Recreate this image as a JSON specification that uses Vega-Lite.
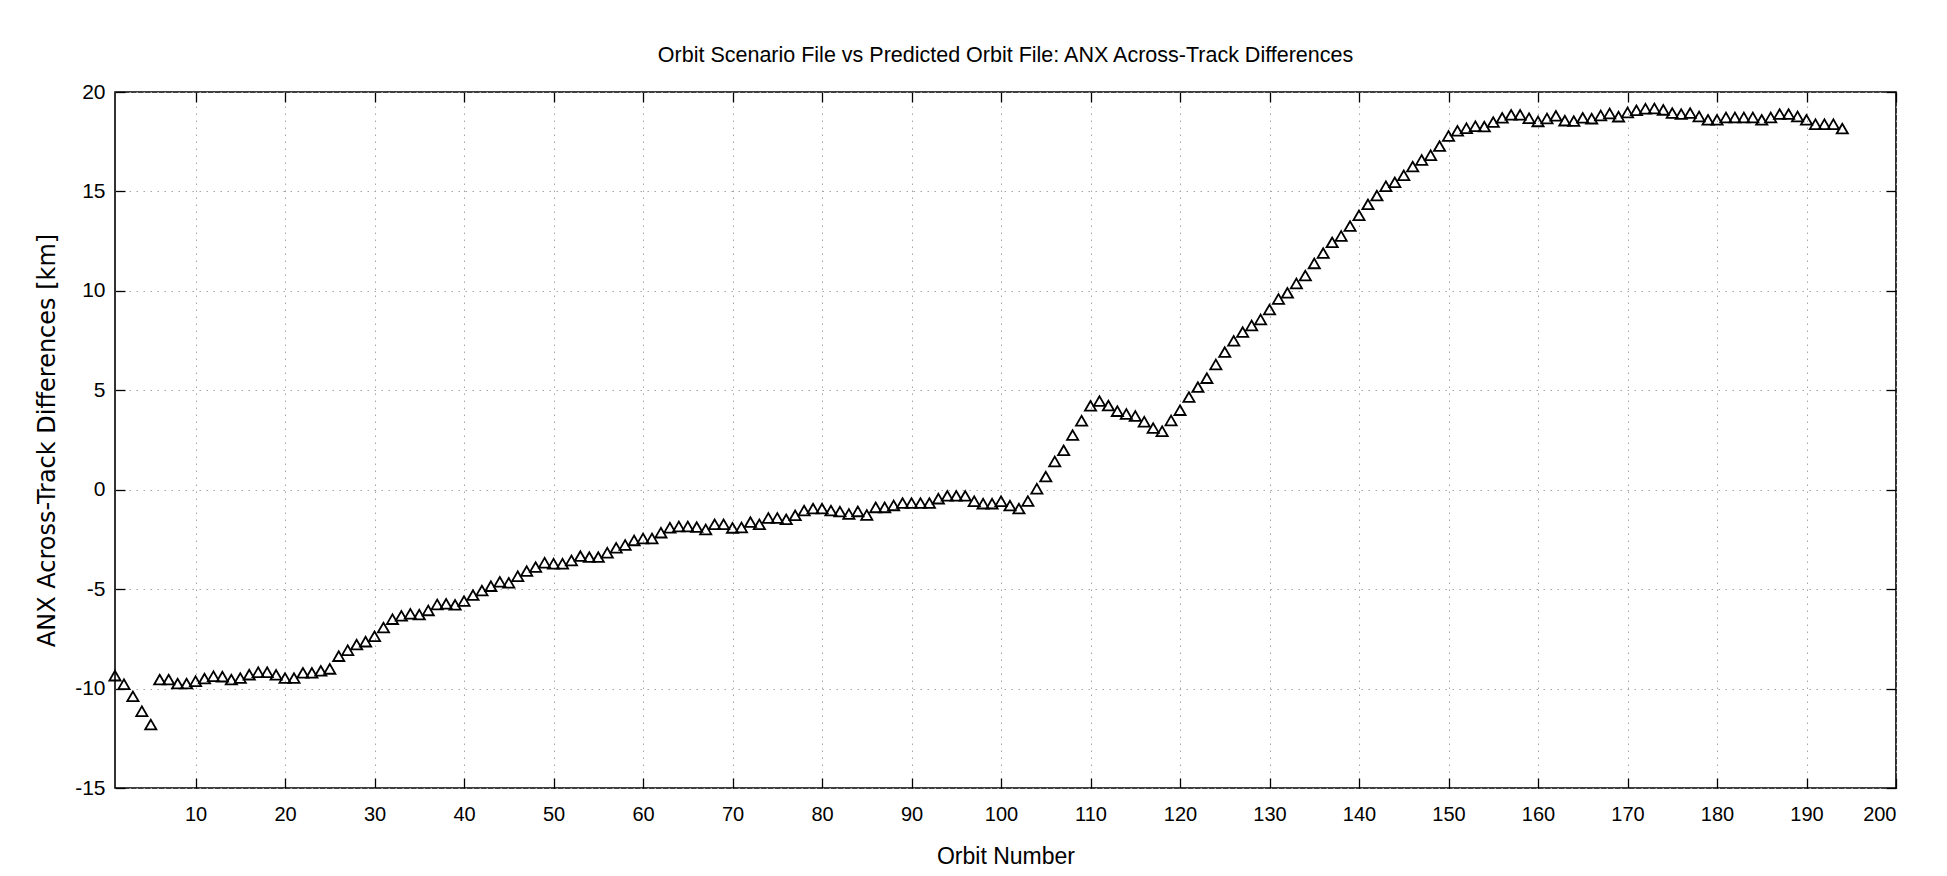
{
  "$schema": "https://vega.github.io/schema/vega-lite/v6.json",
  "width": 1781,
  "height": 696,
  "autosize": {"type": "none"},
  "padding": {"left": 115, "top": 92, "right": 51, "bottom": 88},
  "background": "white",
  "title": {
    "text": "Orbit Scenario File vs Predicted Orbit File: ANX Across-Track Differences",
    "font": "Liberation Sans",
    "fontSize": 21.5,
    "fontWeight": "normal",
    "color": "black",
    "anchor": "middle",
    "frame": "group",
    "offset": 15
  },
  "data": {
    "values": [
      {"orbit": 1, "diff": -9.35}, {"orbit": 2, "diff": -9.78}, {"orbit": 3, "diff": -10.39}, {"orbit": 4, "diff": -11.14}, {"orbit": 5, "diff": -11.81},
      {"orbit": 6, "diff": -9.55}, {"orbit": 7, "diff": -9.55}, {"orbit": 8, "diff": -9.75}, {"orbit": 9, "diff": -9.75}, {"orbit": 10, "diff": -9.63},
      {"orbit": 11, "diff": -9.5}, {"orbit": 12, "diff": -9.38}, {"orbit": 13, "diff": -9.4}, {"orbit": 14, "diff": -9.55}, {"orbit": 15, "diff": -9.47},
      {"orbit": 16, "diff": -9.3}, {"orbit": 17, "diff": -9.18}, {"orbit": 18, "diff": -9.18}, {"orbit": 19, "diff": -9.31}, {"orbit": 20, "diff": -9.47},
      {"orbit": 21, "diff": -9.47}, {"orbit": 22, "diff": -9.21}, {"orbit": 23, "diff": -9.21}, {"orbit": 24, "diff": -9.11}, {"orbit": 25, "diff": -9.01},
      {"orbit": 26, "diff": -8.37}, {"orbit": 27, "diff": -8.07}, {"orbit": 28, "diff": -7.79}, {"orbit": 29, "diff": -7.64}, {"orbit": 30, "diff": -7.37},
      {"orbit": 31, "diff": -6.93}, {"orbit": 32, "diff": -6.51}, {"orbit": 33, "diff": -6.34}, {"orbit": 34, "diff": -6.24}, {"orbit": 35, "diff": -6.28},
      {"orbit": 36, "diff": -6.07}, {"orbit": 37, "diff": -5.77}, {"orbit": 38, "diff": -5.74}, {"orbit": 39, "diff": -5.79}, {"orbit": 40, "diff": -5.6},
      {"orbit": 41, "diff": -5.3}, {"orbit": 42, "diff": -5.07}, {"orbit": 43, "diff": -4.85}, {"orbit": 44, "diff": -4.63}, {"orbit": 45, "diff": -4.68},
      {"orbit": 46, "diff": -4.35}, {"orbit": 47, "diff": -4.09}, {"orbit": 48, "diff": -3.89}, {"orbit": 49, "diff": -3.67}, {"orbit": 50, "diff": -3.72},
      {"orbit": 51, "diff": -3.72}, {"orbit": 52, "diff": -3.56}, {"orbit": 53, "diff": -3.34}, {"orbit": 54, "diff": -3.39}, {"orbit": 55, "diff": -3.39},
      {"orbit": 56, "diff": -3.17}, {"orbit": 57, "diff": -2.92}, {"orbit": 58, "diff": -2.78}, {"orbit": 59, "diff": -2.55}, {"orbit": 60, "diff": -2.45},
      {"orbit": 61, "diff": -2.45}, {"orbit": 62, "diff": -2.16}, {"orbit": 63, "diff": -1.91}, {"orbit": 64, "diff": -1.85}, {"orbit": 65, "diff": -1.85},
      {"orbit": 66, "diff": -1.88}, {"orbit": 67, "diff": -2.0}, {"orbit": 68, "diff": -1.74}, {"orbit": 69, "diff": -1.74}, {"orbit": 70, "diff": -1.92},
      {"orbit": 71, "diff": -1.9}, {"orbit": 72, "diff": -1.63}, {"orbit": 73, "diff": -1.74}, {"orbit": 74, "diff": -1.42}, {"orbit": 75, "diff": -1.42},
      {"orbit": 76, "diff": -1.49}, {"orbit": 77, "diff": -1.29}, {"orbit": 78, "diff": -1.05}, {"orbit": 79, "diff": -0.95}, {"orbit": 80, "diff": -0.95},
      {"orbit": 81, "diff": -1.05}, {"orbit": 82, "diff": -1.1}, {"orbit": 83, "diff": -1.22}, {"orbit": 84, "diff": -1.09}, {"orbit": 85, "diff": -1.27},
      {"orbit": 86, "diff": -0.89}, {"orbit": 87, "diff": -0.89}, {"orbit": 88, "diff": -0.79}, {"orbit": 89, "diff": -0.67}, {"orbit": 90, "diff": -0.67},
      {"orbit": 91, "diff": -0.67}, {"orbit": 92, "diff": -0.67}, {"orbit": 93, "diff": -0.45}, {"orbit": 94, "diff": -0.31}, {"orbit": 95, "diff": -0.31},
      {"orbit": 96, "diff": -0.31}, {"orbit": 97, "diff": -0.58}, {"orbit": 98, "diff": -0.7}, {"orbit": 99, "diff": -0.7}, {"orbit": 100, "diff": -0.58},
      {"orbit": 101, "diff": -0.8}, {"orbit": 102, "diff": -0.95}, {"orbit": 103, "diff": -0.57}, {"orbit": 104, "diff": 0.05}, {"orbit": 105, "diff": 0.66},
      {"orbit": 106, "diff": 1.42}, {"orbit": 107, "diff": 1.98}, {"orbit": 108, "diff": 2.75}, {"orbit": 109, "diff": 3.47}, {"orbit": 110, "diff": 4.22},
      {"orbit": 111, "diff": 4.46}, {"orbit": 112, "diff": 4.23}, {"orbit": 113, "diff": 3.95}, {"orbit": 114, "diff": 3.81}, {"orbit": 115, "diff": 3.71},
      {"orbit": 116, "diff": 3.42}, {"orbit": 117, "diff": 3.1}, {"orbit": 118, "diff": 2.94}, {"orbit": 119, "diff": 3.48}, {"orbit": 120, "diff": 4.0},
      {"orbit": 121, "diff": 4.66}, {"orbit": 122, "diff": 5.16}, {"orbit": 123, "diff": 5.61}, {"orbit": 124, "diff": 6.3}, {"orbit": 125, "diff": 6.92},
      {"orbit": 126, "diff": 7.49}, {"orbit": 127, "diff": 7.93}, {"orbit": 128, "diff": 8.26}, {"orbit": 129, "diff": 8.56}, {"orbit": 130, "diff": 9.06},
      {"orbit": 131, "diff": 9.59}, {"orbit": 132, "diff": 9.9}, {"orbit": 133, "diff": 10.37}, {"orbit": 134, "diff": 10.77}, {"orbit": 135, "diff": 11.38},
      {"orbit": 136, "diff": 11.9}, {"orbit": 137, "diff": 12.44}, {"orbit": 138, "diff": 12.76}, {"orbit": 139, "diff": 13.26}, {"orbit": 140, "diff": 13.8},
      {"orbit": 141, "diff": 14.35}, {"orbit": 142, "diff": 14.79}, {"orbit": 143, "diff": 15.26}, {"orbit": 144, "diff": 15.46}, {"orbit": 145, "diff": 15.81},
      {"orbit": 146, "diff": 16.25}, {"orbit": 147, "diff": 16.58}, {"orbit": 148, "diff": 16.82}, {"orbit": 149, "diff": 17.28}, {"orbit": 150, "diff": 17.79},
      {"orbit": 151, "diff": 18.05}, {"orbit": 152, "diff": 18.18}, {"orbit": 153, "diff": 18.28}, {"orbit": 154, "diff": 18.26}, {"orbit": 155, "diff": 18.49},
      {"orbit": 156, "diff": 18.7}, {"orbit": 157, "diff": 18.85}, {"orbit": 158, "diff": 18.85}, {"orbit": 159, "diff": 18.68}, {"orbit": 160, "diff": 18.52},
      {"orbit": 161, "diff": 18.67}, {"orbit": 162, "diff": 18.8}, {"orbit": 163, "diff": 18.56}, {"orbit": 164, "diff": 18.54}, {"orbit": 165, "diff": 18.7},
      {"orbit": 166, "diff": 18.66}, {"orbit": 167, "diff": 18.82}, {"orbit": 168, "diff": 18.92}, {"orbit": 169, "diff": 18.76}, {"orbit": 170, "diff": 18.97},
      {"orbit": 171, "diff": 19.08}, {"orbit": 172, "diff": 19.16}, {"orbit": 173, "diff": 19.17}, {"orbit": 174, "diff": 19.1}, {"orbit": 175, "diff": 18.94},
      {"orbit": 176, "diff": 18.89}, {"orbit": 177, "diff": 18.94}, {"orbit": 178, "diff": 18.77}, {"orbit": 179, "diff": 18.6}, {"orbit": 180, "diff": 18.6},
      {"orbit": 181, "diff": 18.72}, {"orbit": 182, "diff": 18.72}, {"orbit": 183, "diff": 18.72}, {"orbit": 184, "diff": 18.72}, {"orbit": 185, "diff": 18.6},
      {"orbit": 186, "diff": 18.72}, {"orbit": 187, "diff": 18.89}, {"orbit": 188, "diff": 18.89}, {"orbit": 189, "diff": 18.77}, {"orbit": 190, "diff": 18.6},
      {"orbit": 191, "diff": 18.38}, {"orbit": 192, "diff": 18.38}, {"orbit": 193, "diff": 18.38}, {"orbit": 194, "diff": 18.16}
    ]
  },
  "layer": [
    {
      "mark": {"type": "point", "shape": "triangle-up", "filled": false, "stroke": "black", "strokeWidth": 1.8, "size": 125, "opacity": 1},
      "encoding": {
        "x": {
          "field": "orbit", "type": "quantitative",
          "scale": {"domain": [1, 200], "nice": false, "zero": false},
          "axis": {
            "orient": "bottom",
            "values": [10, 20, 30, 40, 50, 60, 70, 80, 90, 100, 110, 120, 130, 140, 150, 160, 170, 180, 190, 200],
            "grid": true, "gridColor": "#a5a5a5", "gridDash": [1.5, 5.5], "gridWidth": 1,
            "domain": false,
            "ticks": true, "tickSize": -10, "tickColor": "black", "tickWidth": 1.3,
            "labelFont": "Liberation Sans", "labelFontSize": 20, "labelColor": "black", "labelPadding": 26,
            "title": "Orbit Number", "titleFont": "Liberation Sans", "titleFontSize": 23, "titleFontWeight": "normal", "titleColor": "black", "titlePadding": 21
          }
        },
        "y": {
          "field": "diff", "type": "quantitative",
          "scale": {"domain": [-15, 20], "nice": false, "zero": false},
          "axis": {
            "orient": "left",
            "values": [-15, -10, -5, 0, 5, 10, 15, 20],
            "labelExpr": "datum.value < 0 ? '-' + abs(datum.value) : '' + datum.value",
            "grid": true, "gridColor": "#a5a5a5", "gridDash": [1.5, 5.5], "gridWidth": 1,
            "domain": false,
            "ticks": true, "tickSize": -10, "tickColor": "black", "tickWidth": 1.3,
            "labelFont": "Liberation Sans", "labelFontSize": 21, "labelColor": "black", "labelPadding": 20,
            "title": "ANX Across-Track Differences [km]", "titleFont": "DejaVu Sans", "titleFontSize": 24, "titleFontWeight": "normal", "titleColor": "black", "titlePadding": 15
          }
        }
      }
    },
    {
      "mark": {"type": "point", "opacity": 0},
      "encoding": {
        "x": {
          "field": "orbit", "type": "quantitative",
          "axis": {
            "orient": "top",
            "values": [10, 20, 30, 40, 50, 60, 70, 80, 90, 100, 110, 120, 130, 140, 150, 160, 170, 180, 190, 200],
            "grid": false, "domain": false, "labels": false, "title": null,
            "ticks": true, "tickSize": -10, "tickColor": "black", "tickWidth": 1.3
          }
        },
        "y": {
          "field": "diff", "type": "quantitative",
          "axis": {
            "orient": "right",
            "values": [-15, -10, -5, 0, 5, 10, 15, 20],
            "grid": false, "domain": false, "labels": false, "title": null,
            "ticks": true, "tickSize": -10, "tickColor": "black", "tickWidth": 1.3
          }
        }
      }
    }
  ],
  "resolve": {"axis": {"x": "independent", "y": "independent"}},
  "config": {
    "view": {"stroke": "black", "strokeWidth": 1.6}
  }
}
